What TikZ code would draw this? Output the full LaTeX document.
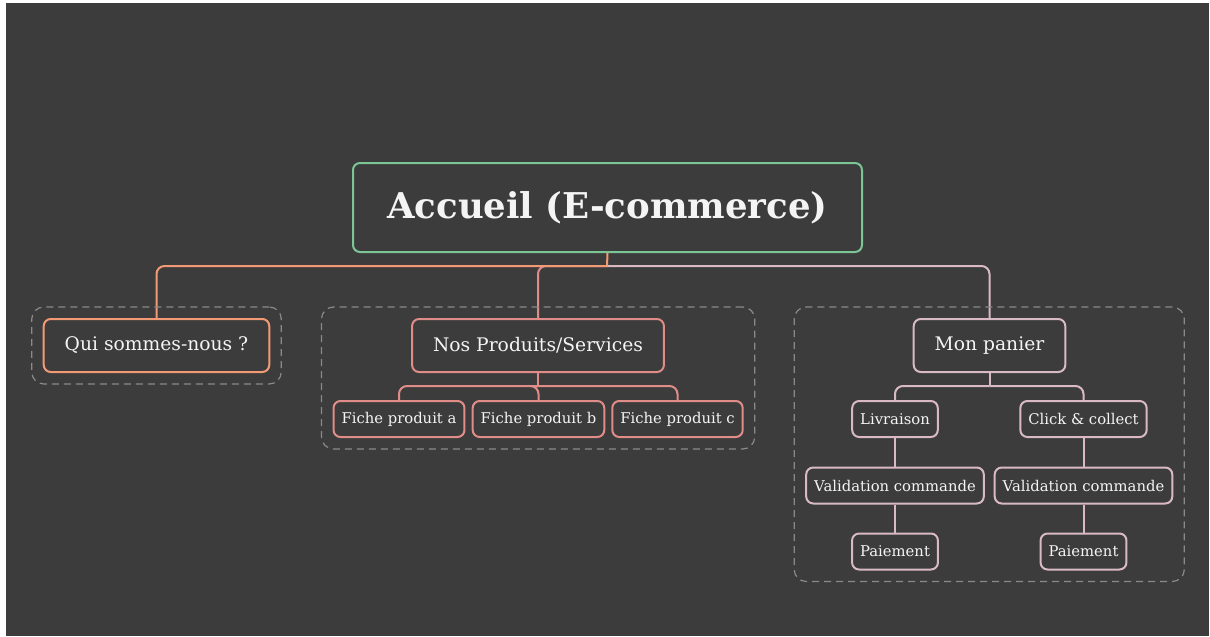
\documentclass[tikz,border=0pt]{standalone}
\usepackage{fontspec}
\setmainfont{DejaVu Serif}
\usetikzlibrary{fit}
\definecolor{bgdark}{HTML}{3C3C3C}
\definecolor{txtwhite}{HTML}{F4F4F4}
\definecolor{rootgreen}{HTML}{7CC594}
\definecolor{quiorange}{HTML}{F29A76}
\definecolor{prodred}{HTML}{E08C88}
\definecolor{panierpink}{HTML}{D9BAC2}
\definecolor{grpgray}{HTML}{8A8A8A}

\begin{document}
\begin{tikzpicture}[x=1pt,y=-1pt,
  box/.style={draw, rounded corners=7pt, line width=2pt, text=txtwhite, inner xsep=8pt, inner ysep=0pt, minimum height=36pt, font=\fontsize{14.8}{17}\selectfont},
  mainbox/.style={box, inner xsep=21pt, minimum height=53pt, font=\fontsize{18.7}{22}\selectfont},
  rootbox/.style={box, draw=rootgreen, minimum width=509pt, minimum height=89pt, font=\bfseries\fontsize{35.5}{42}\selectfont},
  link/.style={line width=2pt, rounded corners=8pt},
  group/.style={draw=grpgray, dash pattern=on 7pt off 5pt, line width=1.2pt, rounded corners=12pt, inner sep=11pt}]
\fill[white] (0,0) rectangle (1210,637);
\fill[bgdark] (6,3) rectangle (1209,636);

\node[rootbox] (root) at (607.5,207.5) {Accueil (E-commerce)};
\node[mainbox, draw=quiorange] (qui) at (156.5,345.5) {Qui sommes-nous ?};
\node[mainbox, draw=prodred] (prod) at (538,345.5) {Nos Produits/Services};
\node[mainbox, draw=panierpink] (panier) at (989.5,345.5) {Mon panier};

\node[box, draw=prodred] (fichea) at (399,419) {Fiche produit a};
\node[box, draw=prodred] (ficheb) at (538.5,419) {Fiche produit b};
\node[box, draw=prodred] (fichec) at (677.5,419) {Fiche produit c};

\node[box, draw=panierpink] (livr) at (895,419) {Livraison};
\node[box, draw=panierpink] (click) at (1083.5,419) {Click \& collect};
\node[box, draw=panierpink] (valida) at (895,485.5) {Validation commande};
\node[box, draw=panierpink] (validb) at (1083.5,485.5) {Validation commande};
\node[box, draw=panierpink] (paiea) at (895,551.5) {Paiement};
\node[box, draw=panierpink] (paieb) at (1083.5,551.5) {Paiement};

\coordinate (rj) at (607,266);
\coordinate (pj) at (538,386);
\coordinate (cj) at (989.5,386);

\draw[link, prodred] (rj) -| (prod.north);
\draw[link, panierpink] (rj) -| (panier.north);
\draw[link, quiorange] (rj) -| (qui.north);
\draw[link, quiorange] (root.south) -- (rj);

\draw[link, prodred] (prod.south) -- (pj);
\foreach \f in {fichea,ficheb,fichec}
  \draw[link, prodred] (pj) -| (\f.north);

\draw[link, panierpink] (panier.south) -- (cj);
\draw[link, panierpink] (cj) -| (livr.north);
\draw[link, panierpink] (cj) -| (click.north);
\draw[link, panierpink] (livr) -- (valida) -- (paiea);
\draw[link, panierpink] (click) -- (validb) -- (paieb);

\node[group, fit=(qui)] (quigrp) {};
\node[group, fit=(prod)(fichea)(fichec)] (prodgrp) {};
\node[group, fit=(panier)(valida)(validb)(paiea)] (paniergrp) {};
\end{tikzpicture}
\end{document}
